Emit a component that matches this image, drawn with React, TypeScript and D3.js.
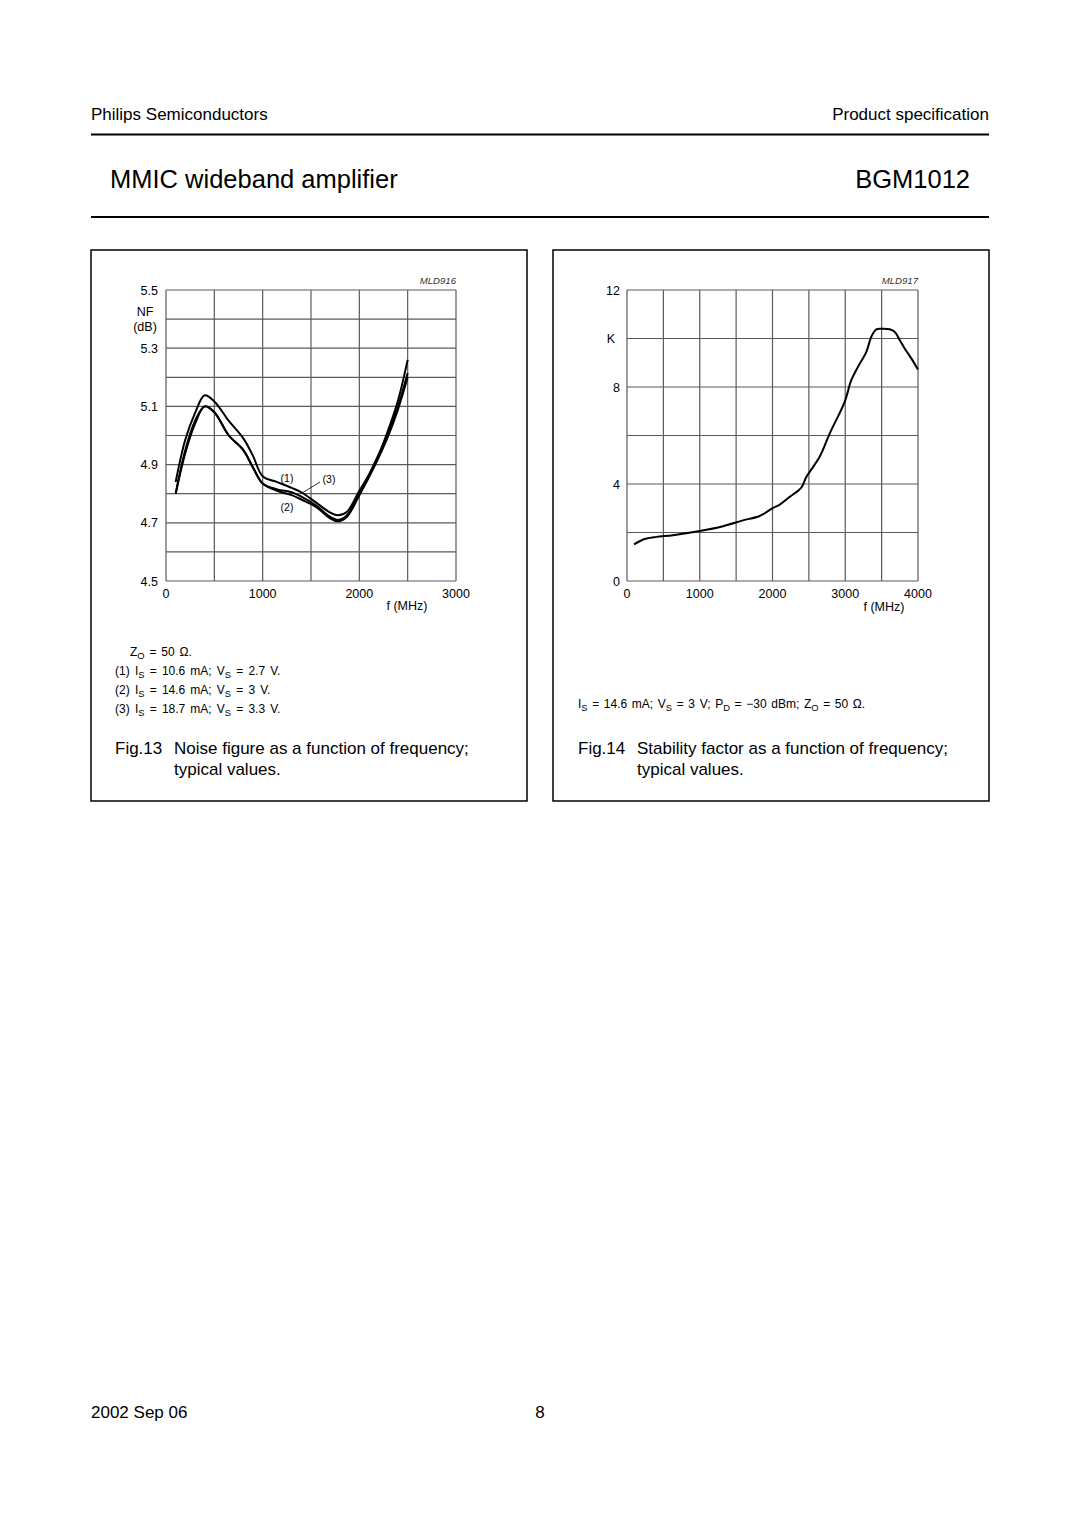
import * as d3 from 'd3';
import React from 'react';

// Fig.13 noise figure data (MHz / dB)
const nfFreq = [100, 200, 300, 400, 500, 650, 800, 900, 1000, 1150, 1300, 1400, 1550, 1700, 1780, 1870, 2000, 2150, 2300, 2400, 2500];
const nf1 = [4.84, 4.986, 5.077, 5.138, 5.117, 5.05, 4.99, 4.93, 4.86, 4.84, 4.82, 4.805, 4.77, 4.735, 4.726, 4.737, 4.81, 4.895, 5.02, 5.12, 5.26];
const nf2 = [4.8, 4.94, 5.04, 5.1, 5.08, 5.0, 4.95, 4.89, 4.835, 4.81, 4.795, 4.78, 4.755, 4.715, 4.705, 4.72, 4.795, 4.89, 5.0, 5.09, 5.2];
const nf3 = [4.8, 4.95, 5.05, 5.1, 5.08, 5.0, 4.95, 4.89, 4.835, 4.815, 4.805, 4.79, 4.76, 4.72, 4.71, 4.725, 4.8, 4.9, 5.01, 5.1, 5.215];
const nfYTicks = [4.5, 4.7, 4.9, 5.1, 5.3, 5.5];
const nfXTicks = [0, 1000, 2000, 3000];

// Fig.14 stability factor data (MHz / K)
const kFreq = [96, 243, 403, 632, 1000, 1320, 1594, 1823, 2000, 2100, 2236, 2396, 2465, 2648, 2786, 2992, 3083, 3175, 3290, 3358, 3427, 3519, 3610, 3679, 3748, 3817, 3908, 4000];
const kVal = [1.51, 1.73, 1.82, 1.89, 2.06, 2.26, 2.5, 2.68, 3.0, 3.15, 3.47, 3.85, 4.29, 5.12, 6.08, 7.39, 8.28, 8.83, 9.45, 10.07, 10.38, 10.4, 10.38, 10.28, 9.94, 9.59, 9.18, 8.72];
const kYTicks = [0, 4, 8, 12];
const kXTicks = [0, 1000, 2000, 3000, 4000];

const FONT = '"Liberation Sans", Arial, Helvetica, sans-serif';
const GRID = '#5a5a5a';
const TICK = 12.5;
const NOTE = 12;
const CAP = 17;

const Sub: React.FC<{ main: string; sub: string; fs: number }> = ({ main, sub, fs }) => (
  <>
    <tspan>{main}</tspan>
    <tspan fontSize={fs * 0.78} dy={3}>{sub}</tspan>
    <tspan dy={-3}>{' '}</tspan>
  </>
);

const NoiseChart: React.FC = () => {
  const x = d3.scaleLinear().domain([0, 3000]).range([166, 456]);
  const y = d3.scaleLinear().domain([4.5, 5.5]).range([581, 290]);
  const line = d3
    .line<number>()
    .x((_, i) => x(nfFreq[i]))
    .y((d) => y(d))
    .curve(d3.curveCatmullRom);
  const vLines = d3.range(0, 3001, 500);
  const hLines = d3.range(0, 11).map((i) => 4.5 + i * 0.1);
  return (
    <g fontFamily={FONT}>
      <rect x={91} y={250} width={436} height={551} fill="none" stroke="#000" strokeWidth={1.5} />
      {vLines.map((v) => (
        <line key={'v' + v} x1={x(v)} x2={x(v)} y1={y(4.5)} y2={y(5.5)} stroke={GRID} strokeWidth={1.2} />
      ))}
      {hLines.map((h, i) => (
        <line key={'h' + i} x1={x(0)} x2={x(3000)} y1={y(h)} y2={y(h)} stroke={GRID} strokeWidth={1.2} />
      ))}
      {nfYTicks.map((t) => (
        <text key={'yt' + t} x={158} y={y(t) + 4.5} fontSize={TICK} textAnchor="end">{t.toFixed(1)}</text>
      ))}
      {nfXTicks.map((t) => (
        <text key={'xt' + t} x={x(t)} y={598} fontSize={TICK} textAnchor="middle">{t}</text>
      ))}
      <text x={145} y={316} fontSize={TICK} textAnchor="middle">NF</text>
      <text x={145} y={331} fontSize={TICK} textAnchor="middle">(dB)</text>
      <text x={407} y={610} fontSize={TICK} textAnchor="middle">f (MHz)</text>
      <text x={456} y={284} fontSize={9.6} fontStyle="italic" textAnchor="end" fill="#333">MLD916</text>
      {[nf1, nf2, nf3].map((s, i) => (
        <path key={'c' + i} d={line(s) || ''} fill="none" stroke="#000" strokeWidth={2} />
      ))}
      <text x={287} y={482} fontSize={10.5} textAnchor="middle">(1)</text>
      <text x={329} y={483} fontSize={10.5} textAnchor="middle">(3)</text>
      <text x={287} y={511} fontSize={10.5} textAnchor="middle">(2)</text>
      <line x1={320} y1={482} x2={302} y2={493} stroke="#000" strokeWidth={0.8} />
      <text x={130} y={656} fontSize={NOTE} wordSpacing={1.5}>
        <Sub main="Z" sub="O" fs={NOTE} />= 50 Ω.
      </text>
      {[
        ['(1)', '10.6', '2.7'],
        ['(2)', '14.6', '3'],
        ['(3)', '18.7', '3.3'],
      ].map(([n, is, vs], i) => (
        <g key={'lg' + i}>
          <text x={115} y={675 + i * 19} fontSize={NOTE}>{n}</text>
          <text x={135} y={675 + i * 19} fontSize={NOTE} wordSpacing={1.8}>
            <Sub main="I" sub="S" fs={NOTE} />= {is} mA; <Sub main="V" sub="S" fs={NOTE} />= {vs} V.
          </text>
        </g>
      ))}
      <text x={115} y={754} fontSize={CAP}>Fig.13</text>
      <text x={174} y={754} fontSize={CAP}>Noise figure as a function of frequency;</text>
      <text x={174} y={775} fontSize={CAP}>typical values.</text>
    </g>
  );
};

const StabilityChart: React.FC = () => {
  const x = d3.scaleLinear().domain([0, 4000]).range([627, 918]);
  const y = d3.scaleLinear().domain([0, 12]).range([581, 290]);
  const line = d3
    .line<number>()
    .x((_, i) => x(kFreq[i]))
    .y((d) => y(d))
    .curve(d3.curveCatmullRom);
  const vLines = d3.range(0, 4001, 500);
  const hLines = d3.range(0, 13, 2);
  return (
    <g fontFamily={FONT}>
      <rect x={553} y={250} width={436} height={551} fill="none" stroke="#000" strokeWidth={1.5} />
      {vLines.map((v) => (
        <line key={'v' + v} x1={x(v)} x2={x(v)} y1={y(0)} y2={y(12)} stroke={GRID} strokeWidth={1.2} />
      ))}
      {hLines.map((h) => (
        <line key={'h' + h} x1={x(0)} x2={x(4000)} y1={y(h)} y2={y(h)} stroke={GRID} strokeWidth={1.2} />
      ))}
      {kYTicks.map((t) => (
        <text key={'yt' + t} x={620} y={y(t) + 4.5} fontSize={TICK} textAnchor="end">{t}</text>
      ))}
      {kXTicks.map((t) => (
        <text key={'xt' + t} x={x(t)} y={598} fontSize={TICK} textAnchor="middle">{t}</text>
      ))}
      <text x={611} y={y(10) + 4.5} fontSize={TICK} textAnchor="middle">K</text>
      <text x={884} y={611} fontSize={TICK} textAnchor="middle">f (MHz)</text>
      <text x={918} y={284} fontSize={9.6} fontStyle="italic" textAnchor="end" fill="#333">MLD917</text>
      <path d={line(kVal) || ''} fill="none" stroke="#000" strokeWidth={2} />
      <text x={578} y={708} fontSize={NOTE} wordSpacing={1.3}>
        <Sub main="I" sub="S" fs={NOTE} />= 14.6 mA; <Sub main="V" sub="S" fs={NOTE} />= 3 V; <Sub main="P" sub="D" fs={NOTE} />= −30 dBm; <Sub main="Z" sub="O" fs={NOTE} />= 50 Ω.
      </text>
      <text x={578} y={754} fontSize={CAP}>Fig.14</text>
      <text x={637} y={754} fontSize={CAP}>Stability factor as a function of frequency;</text>
      <text x={637} y={775} fontSize={CAP}>typical values.</text>
    </g>
  );
};

const App: React.FC = () => {
  return (
    <div style={{ position: 'absolute', left: 0, top: 0, background: '#fff' }}>
      <svg width={1080} height={1527} style={{ display: 'block' }}>
        <rect width={1080} height={1527} fill="#fff" />
        <g fontFamily={FONT} fill="#000">
          <text x={91} y={120} fontSize={17}>Philips Semiconductors</text>
          <text x={989} y={120} fontSize={17} textAnchor="end">Product specification</text>
          <line x1={91} x2={989} y1={134.5} y2={134.5} stroke="#000" strokeWidth={1.8} />
          <text x={110} y={188} fontSize={25.5}>MMIC wideband amplifier</text>
          <text x={970} y={188} fontSize={25.5} textAnchor="end">BGM1012</text>
          <line x1={91} x2={989} y1={217} y2={217} stroke="#000" strokeWidth={1.8} />
          <text x={91} y={1418} fontSize={17}>2002 Sep 06</text>
          <text x={540} y={1418} fontSize={17} textAnchor="middle">8</text>
        </g>
        <NoiseChart />
        <StabilityChart />
      </svg>
    </div>
  );
};

export default App;
